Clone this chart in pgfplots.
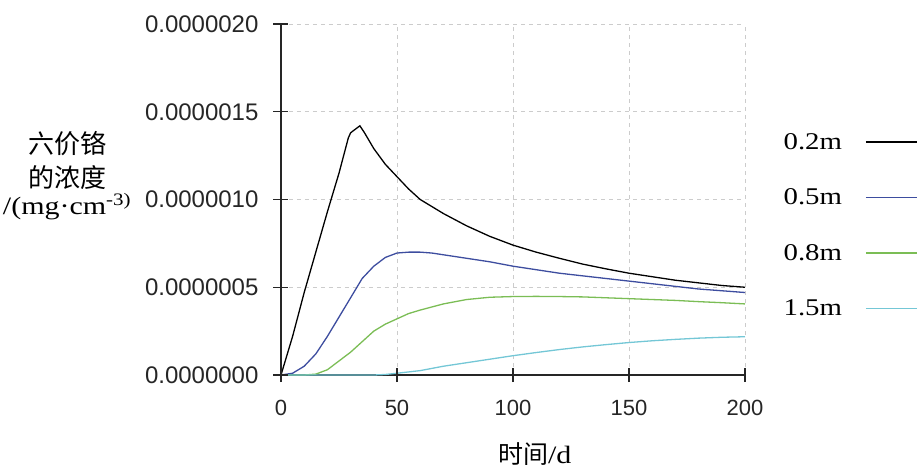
\documentclass[border=0pt]{standalone}
\usepackage{fontspec}
\setmainfont{Liberation Sans}
\newfontfamily\cjk{Noto Sans CJK SC}
\newfontfamily\serifw[FakeStretch=1.2]{Liberation Serif}
\usepackage{pgfplots}
\pgfplotsset{compat=1.18}
\usepackage{pgfplotstable}

\definecolor{cBlue}{HTML}{3D4D9F}
\definecolor{cGreen}{HTML}{7BBD55}
\definecolor{cCyan}{HTML}{74C7D6}
\definecolor{axc}{HTML}{262626}

\pgfplotstableread{
x y
0 0
5 0.22e-6
10 0.47e-6
15 0.70e-6
20 0.93e-6
25 1.15e-6
29 1.35e-6
30 1.38e-6
32 1.40e-6
34 1.42e-6
36 1.38e-6
40 1.29e-6
45 1.20e-6
50 1.13e-6
55 1.06e-6
60 1.00e-6
70 0.92e-6
80 0.85e-6
90 0.79e-6
100 0.74e-6
110 0.70e-6
120 0.665e-6
130 0.632e-6
140 0.605e-6
150 0.58e-6
160 0.56e-6
170 0.54e-6
180 0.525e-6
190 0.51e-6
200 0.50e-6
}\tblA

\pgfplotstableread{
x y
0 0
5 0.01e-6
10 0.05e-6
15 0.12e-6
20 0.22e-6
25 0.33e-6
30 0.44e-6
35 0.55e-6
40 0.62e-6
45 0.67e-6
50 0.695e-6
55 0.70e-6
60 0.70e-6
65 0.695e-6
70 0.685e-6
80 0.665e-6
90 0.645e-6
100 0.62e-6
110 0.60e-6
120 0.58e-6
130 0.565e-6
140 0.55e-6
150 0.535e-6
160 0.52e-6
170 0.505e-6
180 0.49e-6
190 0.48e-6
200 0.47e-6
}\tblB

\pgfplotstableread{
x y
0 0
10 0
15 0.005e-6
20 0.03e-6
25 0.08e-6
30 0.13e-6
35 0.19e-6
40 0.25e-6
45 0.29e-6
50 0.32e-6
55 0.35e-6
60 0.37e-6
70 0.405e-6
80 0.43e-6
90 0.443e-6
100 0.447e-6
110 0.448e-6
120 0.447e-6
130 0.445e-6
140 0.44e-6
150 0.435e-6
160 0.43e-6
170 0.425e-6
180 0.418e-6
190 0.412e-6
200 0.405e-6
}\tblC

\pgfplotstableread{
x y
0 0
40 0
45 0.003e-6
50 0.01e-6
60 0.025e-6
70 0.05e-6
80 0.07e-6
90 0.09e-6
100 0.11e-6
110 0.128e-6
120 0.145e-6
130 0.16e-6
140 0.173e-6
150 0.185e-6
160 0.195e-6
170 0.203e-6
180 0.21e-6
190 0.215e-6
200 0.218e-6
}\tblD

\begin{document}
\begin{tikzpicture}
\useasboundingbox (-281pt,-93pt) rectangle (636pt,375pt);
\begin{axis}[
  scale only axis, width=464pt, height=351pt,
  xmin=0, xmax=200, ymin=0, ymax=2e-6,
  axis x line=bottom, axis y line=left,
  axis line style={-, line width=1.4pt, axc},
  xtick={0,50,100,150,200},
  ytick={0,5e-7,1e-6,1.5e-6,2e-6},
  scaled y ticks=false,
  yticklabel style={xshift=-12pt, font=\fontsize{24}{24}\selectfont, /pgf/number format/fixed, /pgf/number format/precision=7, /pgf/number format/fixed zerofill, /pgf/number format/assume math mode=true},
  xticklabel style={yshift=-15pt, font=\fontsize{22}{22}\selectfont, /pgf/number format/assume math mode=true},
  tick label style={text=axc},
  tick align=center,
  major tick length=14pt,
  major tick style={axc, line width=1.4pt},
  grid=major, major grid style={dash pattern=on 4pt off 4pt, gray!40, line width=0.8pt},
  legend style={at={(1.072,0.700)}, anchor=north west, draw=none, fill=none,
    font=\serifw\fontsize{24}{24}\selectfont, row sep=34pt,
    /tikz/every odd column/.append style={column sep=21pt}},
  legend plot pos=right,
  legend cell align=left,
  legend image code/.code={\draw[#1, line width=1.5pt] (0pt,0pt) -- (62pt,0pt);},
  clip=false,
]
\addplot[black, line width=1.3pt] table[x=x,y=y] {\tblA};
\addlegendentry{0.2m}
\addplot[cBlue, line width=1.3pt] table[x=x,y=y] {\tblB};
\addlegendentry{0.5m}
\addplot[cGreen, line width=1.3pt] table[x=x,y=y] {\tblC};
\addlegendentry{0.8m}
\addplot[cCyan, line width=1.3pt] table[x=x,y=y] {\tblD};
\addlegendentry{1.5m}
\node[align=center, font=\fontsize{26}{30}\selectfont] at (axis description cs:-0.461,0.567)
  {{\cjk 六价铬}\\[4pt]{\cjk 的浓度}\\[-3pt]{\serifw\fontsize{25}{25}\selectfont /(mg·cm\textsuperscript{-3)}}};
\node[font=\fontsize{25}{25}\selectfont] at (axis description cs:0.547,-0.226) {{\cjk 时间}{\serifw /d}};
\end{axis}
% axis tick marks, drawn on the axis box (origin at lower left of the axis)
\foreach \tx in {0,116,232,348,464} {\draw[axc, line width=1.4pt] (\tx pt,7pt) -- (\tx pt,-7pt);}
\foreach \ty in {0,87.75,175.5,263.25,351} {\draw[axc, line width=1.4pt] (-8pt,\ty pt) -- (7pt,\ty pt);}
\end{tikzpicture}
\end{document}
